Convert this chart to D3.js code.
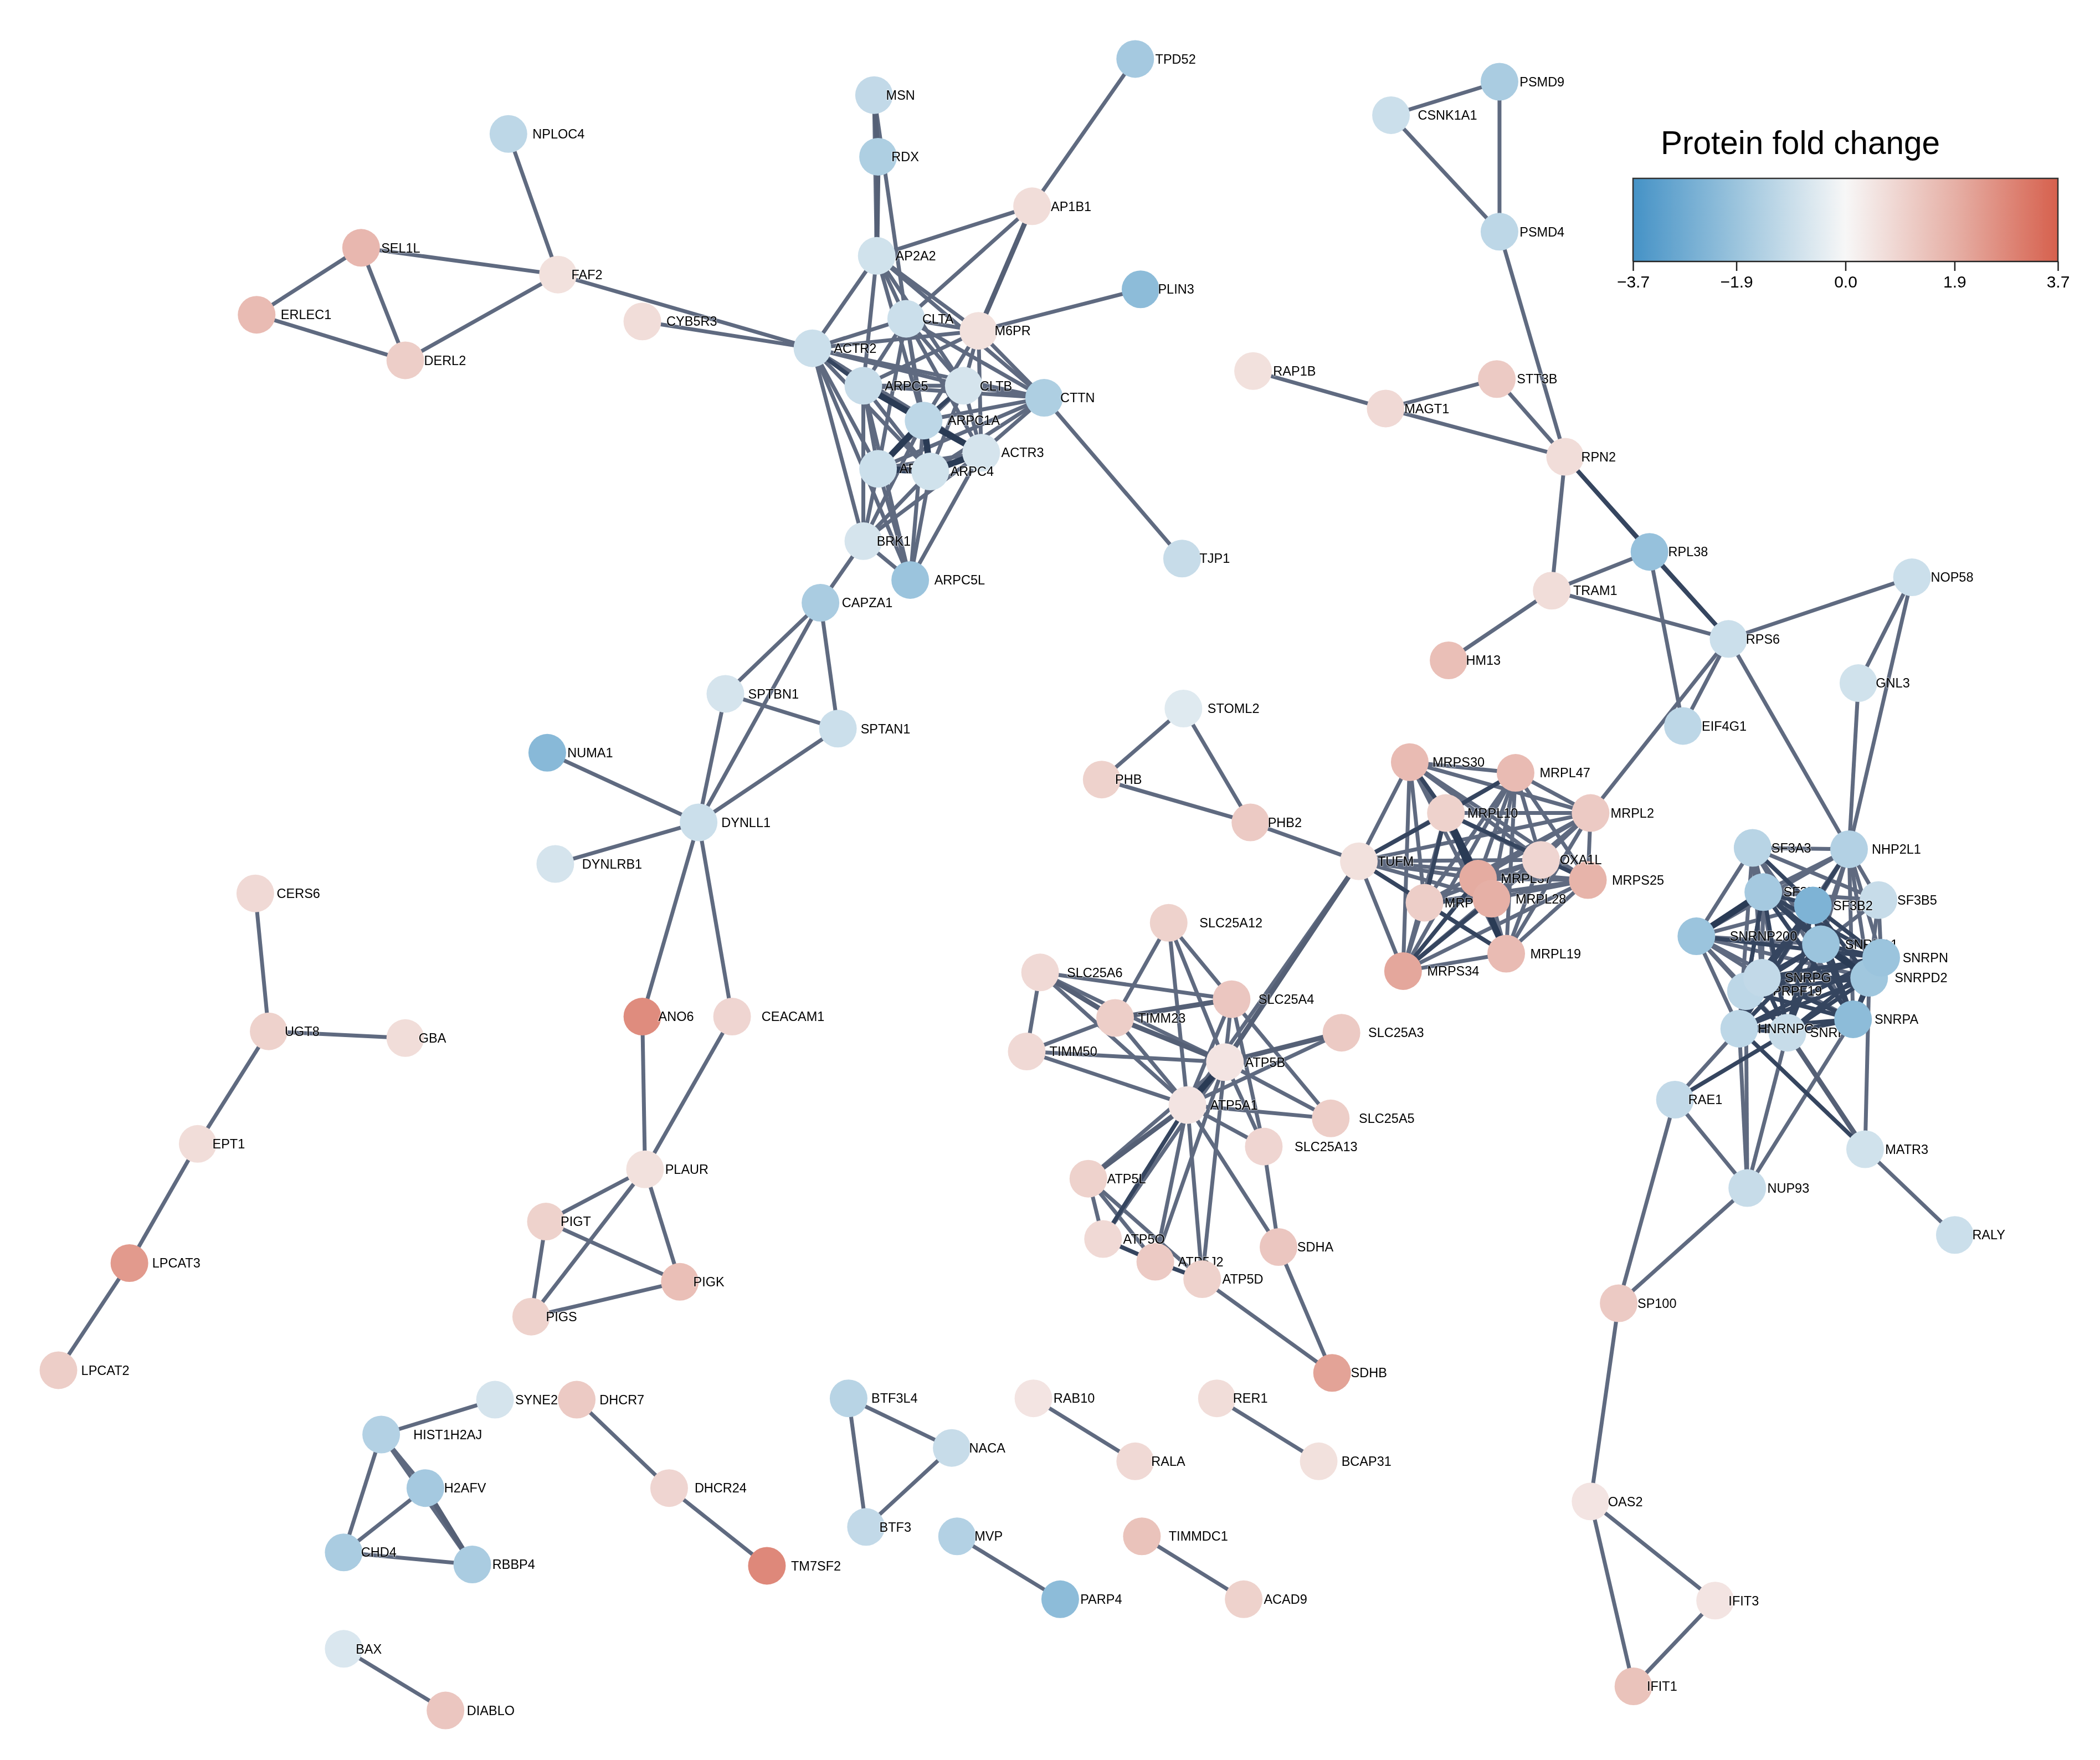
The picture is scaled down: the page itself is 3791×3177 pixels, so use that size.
<!DOCTYPE html>
<html>
<head>
<meta charset="utf-8">
<script src="https://cdn.jsdelivr.net/npm/d3@7"></script>
<style>
  html, body { margin: 0; background: #fff; }
  svg { display: block; }
  .label {
    font-family: "Liberation Sans", Arial, sans-serif; font-size: 23.5px; fill: #000;
    paint-order: stroke; stroke: rgba(255,255,255,0.35); stroke-width: 3px; stroke-linejoin: round;
  }
  .legend text { font-family: "Liberation Sans", Arial, sans-serif; fill: #000; }
</style>
</head>
<body>
<svg id="chart"></svg>
<script>
// nodes, one line per module (graph units of a 1568 wide layout)
var nodeNames = [
  'TPD52','MSN','RDX','NPLOC4','AP1B1','SEL1L','FAF2','CYB5R3','ERLEC1','DERL2',
  'AP2A2','CLTA','PLIN3','ACTR2','ARPC5','M6PR','CLTB','CTTN','ARPC1A','ARPC2','ACTR3','ARPC4','BRK1','ARPC5L','TJP1',
  'CAPZA1','SPTBN1','SPTAN1','NUMA1','DYNLL1','DYNLRB1','ANO6','CEACAM1','PLAUR','PIGT','PIGK','PIGS',
  'CERS6','UGT8','GBA','EPT1','LPCAT3','LPCAT2',
  'SYNE2','DHCR7','HIST1H2AJ','H2AFV','CHD4','RBBP4','DHCR24','TM7SF2',
  'BTF3L4','NACA','BTF3','MVP','PARP4','RAB10','RALA','RER1','BCAP31','TIMMDC1','ACAD9','BAX','DIABLO',
  'CSNK1A1','PSMD9','PSMD4','RAP1B','MAGT1','STT3B','RPN2','RPL38','TRAM1','HM13','NOP58','RPS6','GNL3','EIF4G1',
  'STOML2','PHB','PHB2','TUFM','MRPS30','MRPL47','MRPL10','MRPL2','MRPL15','MRPS25','MRPL37','MRPL28','OXA1L','MRPL19','MRPS34',
  'SLC25A12','SLC25A6','SLC25A4','TIMM23','SLC25A3','TIMM50','ATP5B','ATP5A1','SLC25A5','SLC25A13','ATP5L','ATP5J2','ATP5O','ATP5D','SDHA','SDHB',
  'SF3A3','NHP2L1','SF3B1','SF3B5','SF3B2','SNRNP200','SNRPD1','SNRPD2','SNRPN','PRPF19','SNRPG','SNRPF','SNRPA','HNRNPC','RAE1','MATR3','NUP93','RALY',
  'SP100','OAS2','IFIT3','IFIT1'
];
var nodeX = [
  847,652,655,379,770,269,416,479,191,302,
  654,676,851,606,644,730,719,779,689,655,732,694,644,679,882,
  612,541,625,408,521,414,479,546,481,407,507,396,
  190,200,302,147,96,43,
  369,430,284,317,256,352,499,572,
  633,710,646,714,791,771,847,908,984,852,928,256,332,
  1038,1119,1119,935,1034,1117,1168,1231,1158,1081,1427,1290,1387,1256,
  883,822,933,1014,1052,1131,1079,1187,1063,1185,1103,1113,1150,1124,1047,
  872,776,919,832,1001,766,914,886,993,943,812,862,823,897,954,994,
  1308,1380,1316,1402,1353,1266,1359,1395,1404,1303,1315,1334,1383,1298,1250,1392,1304,1459,
  1208,1187,1280,1219
];
var nodeY = [
  44,71,117,100,154,185,205,240,235,269,
  191,238,216,260,288,247,288,297,314,350,338,352,404,433,417,
  450,518,544,562,614,645,759,759,873,912,957,983,
  667,770,775,854,943,1023,
  1045,1045,1071,1111,1159,1168,1111,1169,
  1044,1081,1140,1147,1194,1044,1091,1044,1091,1147,1194,1231,1277,
  86,61,173,277,305,283,341,412,441,493,431,477,510,542,
  529,582,614,643,569,577,607,607,674,657,656,671,642,712,725,
  689,726,746,760,771,785,793,825,835,856,880,942,925,955,931,1025,
  633,634,666,672,676,699,705,730,715,740,730,771,761,768,821,858,887,922,
  973,1121,1195,1259
];
var nodeFold = [
  -1.7,-1.1,-1.5,-1.2,0.7,1.7,0.6,0.7,1.6,1.1,
  -0.8,-0.9,-2.2,-0.9,-1.0,0.6,-0.7,-1.5,-1.2,-0.9,-0.7,-0.8,-0.7,-1.9,-1.0,
  -1.6,-0.7,-0.9,-2.3,-0.9,-0.7,2.7,0.9,0.6,1.0,1.5,1.0,
  0.8,1.0,0.7,0.7,2.4,1.1,
  -0.7,1.2,-1.4,-1.7,-1.6,-1.6,0.9,2.8,
  -1.3,-1.0,-1.1,-1.4,-2.2,0.5,0.8,0.7,0.6,1.4,1.0,-0.6,1.3,
  -0.9,-1.6,-1.2,0.6,0.8,1.2,0.7,-2.0,0.7,1.5,-0.9,-0.9,-0.8,-1.2,
  -0.5,1.0,1.2,0.6,1.6,1.6,1.0,1.2,1.1,1.8,2.0,1.9,0.9,1.6,2.1,
  1.0,0.8,1.3,1.1,1.2,0.8,0.5,0.5,1.1,0.9,1.0,1.2,0.8,1.0,1.3,2.2,
  -1.3,-1.4,-1.7,-1.0,-2.5,-1.9,-1.9,-1.8,-1.9,-1.2,-1.1,-1.0,-2.2,-1.2,-1.1,-0.8,-1.0,-0.9,
  1.2,0.5,0.5,1.4
];
var labelX = [
  862,661,665,397,784,284,426,497,209,316,
  668,688,864,622,660,742,731,791,707,671,747,709,654,697,895,
  628,558,642,423,538,434,491,568,496,418,517,407,
  206,212,312,158,113,60,
  384,447,308,331,269,367,518,590,
  650,723,656,727,806,786,859,920,1001,872,943,265,348,
  1058,1134,1134,950,1048,1132,1180,1245,1174,1094,1441,1303,1400,1270,
  901,832,946,1028,1069,1149,1095,1202,1078,1203,1120,1131,1164,1142,1065,
  895,796,939,849,1021,783,929,903,1014,966,826,879,838,912,968,1008,
  1322,1397,1331,1416,1368,1291,1377,1414,1420,1323,1332,1351,1399,1312,1260,1407,1319,1472,
  1222,1200,1290,1229
];

// edges written as "source target target ..."
var linksThin = [
  'TPD52 AP1B1','NPLOC4 FAF2','SEL1L FAF2 ERLEC1 DERL2','ERLEC1 DERL2','FAF2 DERL2 ACTR2','CYB5R3 ACTR2',
  'MSN AP2A2 CLTA','AP1B1 AP2A2 CLTA','PLIN3 M6PR',
  'AP2A2 M6PR ACTR2 CLTA CLTB CTTN ARPC5 ARPC1A',
  'ACTR2 CLTA M6PR CTTN ARPC1A ARPC2 ARPC4 ACTR3 BRK1 ARPC5L CLTB',
  'CLTA CLTB M6PR CTTN ARPC5 ARPC1A ARPC2 ARPC4 ACTR3',
  'M6PR CLTB CTTN ARPC5 ARPC1A ACTR3','CLTB CTTN ARPC5 ARPC2 ACTR3 ARPC4',
  'CTTN ARPC5 ARPC1A ACTR3 ARPC2 ARPC4 TJP1','ARPC5 ARPC2 ARPC4 ACTR3 BRK1 ARPC5L','ARPC1A BRK1 ARPC5L',
  'ARPC2 ACTR3 BRK1 ARPC5L','ARPC4 BRK1 ARPC5L','ACTR3 BRK1 ARPC5L','BRK1 ARPC5L CAPZA1',
  'CAPZA1 SPTBN1 SPTAN1 DYNLL1','SPTBN1 SPTAN1 DYNLL1','SPTAN1 DYNLL1','NUMA1 DYNLL1','DYNLRB1 DYNLL1',
  'DYNLL1 ANO6 CEACAM1','ANO6 PLAUR','CEACAM1 PLAUR','PLAUR PIGT PIGK PIGS','PIGT PIGK PIGS','PIGK PIGS',
  'CERS6 UGT8','UGT8 GBA EPT1','EPT1 LPCAT3','LPCAT3 LPCAT2',
  'SYNE2 HIST1H2AJ','HIST1H2AJ H2AFV CHD4 RBBP4','H2AFV CHD4','CHD4 RBBP4','DHCR7 DHCR24','DHCR24 TM7SF2',
  'BTF3L4 NACA BTF3','NACA BTF3','MVP PARP4','RAB10 RALA','RER1 BCAP31','TIMMDC1 ACAD9','BAX DIABLO',
  'CSNK1A1 PSMD9 PSMD4','PSMD9 PSMD4','PSMD4 RPN2','RAP1B MAGT1','MAGT1 STT3B RPN2','STT3B RPN2','RPN2 TRAM1',
  'RPL38 EIF4G1','TRAM1 HM13 RPL38 RPS6','RPS6 NOP58 EIF4G1 NHP2L1 MRPL2','NOP58 GNL3 NHP2L1','GNL3 NHP2L1',
  'STOML2 PHB PHB2','PHB PHB2','PHB2 TUFM','TUFM ATP5A1 MRPS30 MRPL47 MRPL2 OXA1L MRPL37 MRPL28 MRPS25 MRPL19 MRPS34',
  'MRPS30 MRPL47 MRPL2 MRPL15 OXA1L MRPL28 MRPS25 MRPL19 MRPS34',
  'MRPL47 MRPL2 MRPL15 OXA1L MRPL37 MRPL28 MRPS25 MRPL19 MRPS34',
  'MRPL10 MRPL2 OXA1L MRPL28 MRPS25 MRPS34','MRPL2 MRPL15 OXA1L MRPL37 MRPL28 MRPS25 MRPL19 MRPS34',
  'MRPL15 OXA1L MRPS25 MRPS34','OXA1L MRPL19 MRPS34 MRPL28','MRPS25 MRPL28 MRPL37 MRPL19 MRPS34','MRPL37 MRPL19 OXA1L','MRPL28 MRPL19','MRPL19 MRPS34',
  'SLC25A12 TIMM23 ATP5A1 ATP5B SLC25A4','SLC25A6 TIMM50 SLC25A4 ATP5B ATP5A1',
  'SLC25A4 ATP5B ATP5A1 SLC25A5 SLC25A13','TIMM23 TIMM50 ATP5A1','TIMM50 ATP5B ATP5A1','SLC25A3 ATP5A1',
  'ATP5B SLC25A5 SLC25A13 ATP5L ATP5O ATP5J2 ATP5D','ATP5A1 SLC25A5 SLC25A13 ATP5O ATP5J2 ATP5D SDHA',
  'ATP5L ATP5O ATP5J2 ATP5D','SLC25A13 SDHA','SDHA SDHB','ATP5D SDHB',
  'SF3A3 NHP2L1 SF3B1 SNRNP200 SNRPD1 SF3B2 SF3B5 SNRPG','NHP2L1 SF3B1 SF3B2 SF3B5 SNRPD1 SNRPN SNRPD2 SNRNP200 SNRPG',
  'SF3B1 SF3B5 SNRPD1 SNRPG PRPF19','SF3B5 SNRPD1 SNRPD2 SNRPN','SNRNP200 SF3B1 SF3B2 SNRPD1 SNRPG PRPF19 SNRPF SNRPA HNRNPC SNRPD2',
  'SF3A3 SNRPF SNRPA HNRNPC','NHP2L1 SNRPA SNRPF HNRNPC',
  'SNRPD2 MATR3','PRPF19 NUP93','HNRNPC RAE1 NUP93','SNRPF NUP93','SNRPA NUP93',
  'RAE1 NUP93 SP100','NUP93 SP100','MATR3 RALY','SP100 OAS2','OAS2 IFIT3 IFIT1','IFIT3 IFIT1'
];
// the paired looking edges: wider but not as dark
var linksWide = [
  'MSN RDX','RDX AP2A2','AP1B1 M6PR','H2AFV RBBP4','TUFM ATP5B','SLC25A6 TIMM23','SLC25A4 TIMM23',
  'TIMM23 ATP5B','SLC25A3 ATP5B','ATP5A1 ATP5L','SNRPF MATR3'
];
var linksDark = [
  'ACTR2 ARPC5','CLTB ARPC1A','RPN2 RPL38 RPS6','RPL38 RPS6','TUFM MRPL10 MRPL15',
  'MRPS30 MRPL10','MRPL47 MRPL10','MRPL10 MRPL15 MRPS25','MRPL15 MRPL19 MRPL28','MRPS34 MRPL28 MRPL37',
  'ATP5O ATP5J2','ATP5J2 ATP5D','ATP5O ATP5A1',
  'SF3A3 SF3B2','NHP2L1 SF3B2','SF3B1 SF3B2 SNRPD2 SNRPN SNRPA SNRPF SNRPD1 HNRNPC',
  'SF3B2 SNRPD1 SNRPD2 SNRPN SNRPG PRPF19 SNRPA SNRPF HNRNPC',
  'SNRNP200 SNRPN','SNRPD1 SNRPG SNRPD2 SNRPN PRPF19 SNRPF SNRPA HNRNPC','SNRPD2 SNRPG SNRPA SNRPN PRPF19 SNRPF HNRNPC',
  'SNRPN SNRPA PRPF19 SNRPG SNRPF HNRNPC','SNRPG PRPF19 SNRPF SNRPA HNRNPC','PRPF19 SNRPF SNRPA HNRNPC','SNRPA HNRNPC SNRPF','SNRPF RAE1 HNRNPC','HNRNPC MATR3'
];
var linksHeavy = [
  'ARPC5 ARPC1A','ARPC1A ARPC2 ARPC4 ACTR3','ARPC2 ARPC4','ARPC4 ACTR3','ATP5B ATP5A1',
  'MRPL10 MRPL37 MRPL19','SNRNP200 SF3B1','SNRPD1 SNRPD2'
];
var linkLevels = [linksThin, linksWide, linksDark, linksHeavy];

var legendTicks = [-3.7, -1.9, 0.0, 1.9, 3.7];
var legendColors = ['#4592c6', '#9bc4dd', '#f7f7f7', '#e6b0a6', '#d6604d'];
var legendTitle = 'Protein fold change';

var width = 3791, height = 3177;
var x = d3.scaleLinear().domain([0, 1568]).range([1.5, width + 1.5]);
var y = d3.scaleLinear().domain([0, 1314]).range([0, height]);
var foldColor = d3.scaleLinear().domain(legendTicks).range(legendColors);
var linkWidth = d3.scaleLinear().domain([0, 1, 2, 3]).range([7, 9, 7.5, 11.5]);
var linkColor = d3.scaleLinear().domain([0, 1, 2, 3]).range(['#5f6a80', '#556076', '#36455f', '#2b3a55']);

var nodes = nodeNames.map(function(name, i) {
  return { name: name, x: nodeX[i], y: nodeY[i], fold: nodeFold[i], labelX: labelX[i] };
});
var byName = new Map(nodes.map(function(d) { return [d.name, d]; }));

// expand the edge lines, a pair only once
var seen = new Set();
var links = [];
linkLevels.slice().reverse().forEach(function(rows, r) {
  var level = linkLevels.length - 1 - r;
  rows.forEach(function(row) {
    var parts = row.split(' ');
    parts.slice(1).forEach(function(target) {
      var key = [parts[0], target].sort().join('|');
      if (seen.has(key)) return;
      seen.add(key);
      links.push({ source: byName.get(parts[0]), target: byName.get(target), level: level });
    });
  });
});
links.sort(function(a, b) { return a.level - b.level; });

var svg = d3.select('#chart')
  .attr('width', width)
  .attr('height', height)
  .attr('viewBox', '0 0 ' + width + ' ' + height);

var defs = svg.append('defs');
defs.append('filter').attr('id', 'soft')
  .append('feGaussianBlur').attr('stdDeviation', 0.7);

var graph = svg.append('g').attr('filter', 'url(#soft)');

graph.append('g').selectAll('line')
  .data(links)
  .enter().append('line')
  .attr('x1', function(d) { return x(d.source.x); })
  .attr('y1', function(d) { return y(d.source.y); })
  .attr('x2', function(d) { return x(d.target.x); })
  .attr('y2', function(d) { return y(d.target.y); })
  .style('stroke', function(d) { return linkColor(d.level); })
  .style('stroke-width', function(d) { return linkWidth(d.level); });

// circle and label go in together so later nodes can hide earlier labels
var node = graph.append('g').selectAll('g')
  .data(nodes)
  .enter().append('g')
  .attr('class', 'node');

node.append('circle')
  .attr('cx', function(d) { return x(d.x); })
  .attr('cy', function(d) { return y(d.y); })
  .attr('r', 34)
  .style('fill', function(d) { return foldColor(d.fold); });

node.append('text')
  .attr('class', 'label')
  .attr('x', function(d) { return x(d.labelX); })
  .attr('y', function(d) { return y(d.y); })
  .attr('dy', '.35em')
  .text(function(d) { return d.name; });

// legend
var barLeft = 2948, barRight = 3715, barTop = 322, barBottom = 472;
var legend = svg.append('g').attr('class', 'legend').attr('filter', 'url(#soft)');
var legendX = d3.scaleLinear().domain([legendTicks[0], legendTicks[4]]).range([barLeft, barRight]);

var gradient = defs.append('linearGradient').attr('id', 'foldGradient');
gradient.selectAll('stop')
  .data(legendTicks)
  .enter().append('stop')
  .attr('offset', function(d) { return (d - legendTicks[0]) / (legendTicks[4] - legendTicks[0]); })
  .attr('stop-color', function(d) { return foldColor(d); });

legend.append('rect')
  .attr('x', barLeft)
  .attr('y', barTop)
  .attr('width', barRight - barLeft)
  .attr('height', barBottom - barTop)
  .style('fill', 'url(#foldGradient)');

legend.append('path')
  .attr('d', 'M' + barLeft + ',' + barBottom + 'V' + barTop + 'H' + barRight + 'V' + barBottom)
  .style('fill', 'none')
  .style('stroke', '#333')
  .style('stroke-width', 2.5);

var axis = legend.append('g')
  .attr('transform', 'translate(0,' + barBottom + ')')
  .call(d3.axisBottom(legendX)
    .tickValues(legendTicks)
    .tickFormat(d3.format('.1f'))
    .tickSize(17)
    .tickPadding(9));
axis.selectAll('line, path').style('stroke', '#222').style('stroke-width', 2.5);
axis.selectAll('text').style('font-size', '30px');
axis.select('.domain').attr('d', 'M' + barLeft + ',0H' + barRight);

legend.append('text')
  .attr('x', 2998)
  .attr('y', 278)
  .style('font-size', '58.5px')
  .text(legendTitle);
</script>
</body>
</html>
